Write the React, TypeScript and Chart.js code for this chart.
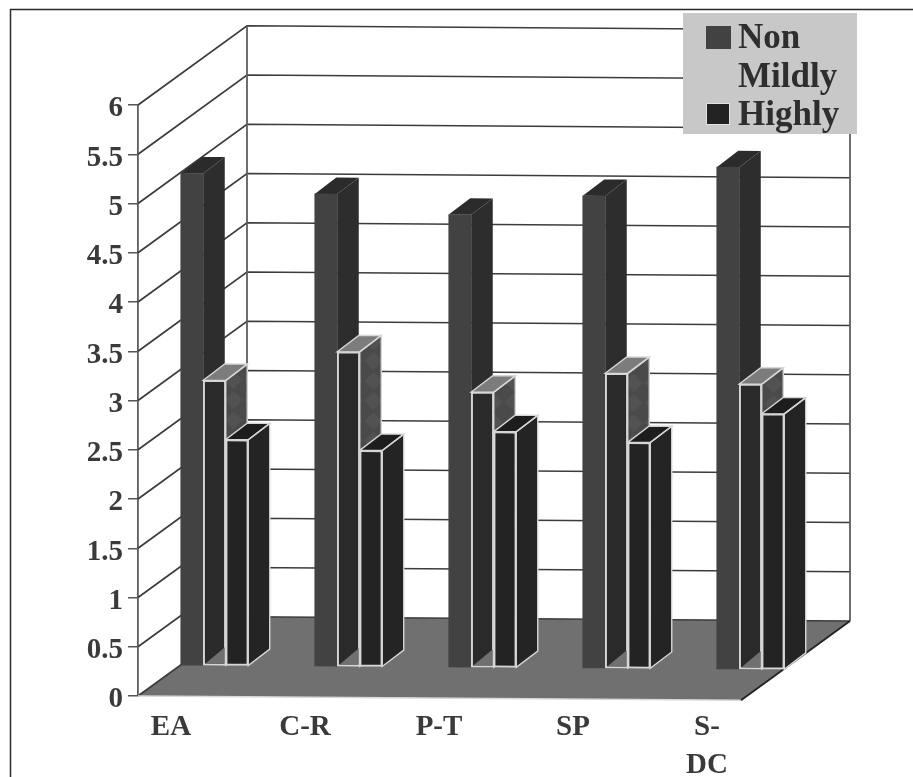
import React, { useEffect, useRef } from "react";
import { Chart, registerables } from "chart.js";

Chart.register(...registerables);

// Rating scores per task, one list per impairment group.
const categories: (string | string[])[] = ["EA", "C-R", "P-T", "SP", ["S-", "DC"]];
const nonScores = [5.0, 4.8, 4.6, 4.8, 5.1];
const mildlyScores = [2.9, 3.2, 2.8, 3.0, 2.9];
const highlyScores = [2.3, 2.2, 2.4, 2.3, 2.6];
const yTicks = [0, 0.5, 1, 1.5, 2, 2.5, 3, 3.5, 4, 4.5, 5, 5.5, 6];

const WIDTH = 913;
const HEIGHT = 777;
const FONT = '"Liberation Serif", serif';

// Oblique projection used for the fake 3D box.
const BOX_DEPTH = { x: 109, y: -80 };
const BAR_SHIFT = { x: 43.5, y: -30.5 };
const BAR_DEPTH = { x: 21.5, y: -16.5 };
const FLOOR_TILT = 0.007;
const BAR_WIDTH = 22.5;
const CATEGORY_STEP = 134;

type Look = { top: string; side: string; edge: string | null };
const looks: Look[] = [
  { top: "#2b2b2b", side: "#2d2d2d", edge: null },
  { top: "#7c7c7c", side: "#4a4a4a", edge: "#d6d6d6" },
  { top: "#1d1d1d", side: "#242424", edge: "#d6d6d6" },
];

function poly(ctx: CanvasRenderingContext2D, pts: number[][]) {
  ctx.beginPath();
  pts.forEach(([x, y], i) => (i ? ctx.lineTo(x, y) : ctx.moveTo(x, y)));
  ctx.closePath();
}

function line(ctx: CanvasRenderingContext2D, pts: number[][], color: string, width: number) {
  ctx.beginPath();
  pts.forEach(([x, y], i) => (i ? ctx.lineTo(x, y) : ctx.moveTo(x, y)));
  ctx.strokeStyle = color;
  ctx.lineWidth = width;
  ctx.stroke();
}

function diamondPattern(ctx: CanvasRenderingContext2D, base: string) {
  const c = document.createElement("canvas");
  c.width = 20;
  c.height = 20;
  const p = c.getContext("2d")!;
  p.fillStyle = base;
  p.fillRect(0, 0, 20, 20);
  p.fillStyle = "#525252";
  p.beginPath();
  p.moveTo(10, 1);
  p.lineTo(19, 10);
  p.lineTo(10, 19);
  p.lineTo(1, 10);
  p.closePath();
  p.fill();
  return ctx.createPattern(c, "repeat");
}

const box3d = {
  id: "box3d",
  beforeDraw(chart: Chart) {
    const ctx = chart.ctx;
    ctx.save();
    ctx.fillStyle = "#ffffff";
    ctx.fillRect(0, 0, WIDTH, HEIGHT);
    line(ctx, [[10.5, HEIGHT], [10.5, 9.5], [WIDTH, 9.5]], "#2a2a2a", 1.5);
    ctx.restore();
  },
  beforeDatasetsDraw(chart: Chart) {
    const { ctx, chartArea } = chart;
    const y = chart.scales.y;
    const { left, right } = chartArea;
    const d = BOX_DEPTH;
    const y0 = y.getPixelForValue(0);

    ctx.save();
    ctx.transform(1, FLOOR_TILT, 0, 1, 0, -FLOOR_TILT * left);

    // Floor
    poly(ctx, [[left, y0], [right, y0], [right + d.x, y0 + d.y], [left + d.x, y0 + d.y]]);
    ctx.fillStyle = "#707070";
    ctx.fill();

    // Side and back walls with their gridlines
    yTicks.forEach((v) => {
      const py = y.getPixelForValue(v);
      line(ctx, [[left, py], [left + d.x, py + d.y], [right + d.x, py + d.y]], "#3c3c3c", 1.7);
    });
    const top = y.getPixelForValue(6);
    line(ctx, [[left + d.x, top + d.y], [left + d.x, y0 + d.y]], "#5e5e5e", 1.8);
    line(ctx, [[right + d.x, top + d.y], [right + d.x, y0 + d.y]], "#5e5e5e", 1.8);

    line(ctx, [[left, y0], [right, y0]], "#d8d8d8", 1.5);
    line(ctx, [[right, y0], [right + d.x, y0 + d.y]], "#222222", 1.8);

    // Bars stand a little behind the front plane
    ctx.translate(BAR_SHIFT.x, BAR_SHIFT.y);
  },
  beforeDatasetDraw(chart: Chart, args: any) {
    const ctx = chart.ctx;
    const look = looks[args.index];
    const sidePaint = args.index === 1 ? diamondPattern(ctx, look.side) : look.side;
    args.meta.data.forEach((bar: any) => {
      const { x, y, base, width } = bar.getProps(["x", "y", "base", "width"], true);
      const r = x + width / 2;
      const l = x - width / 2;
      const dx = BAR_DEPTH.x;
      const dy = BAR_DEPTH.y;
      const side = [[r, y], [r + dx, y + dy], [r + dx, base + dy], [r, base]];
      const lid = [[l, y], [l + dx, y + dy], [r + dx, y + dy], [r, y]];
      poly(ctx, side);
      ctx.fillStyle = sidePaint as any;
      ctx.fill();
      poly(ctx, lid);
      ctx.fillStyle = look.top;
      ctx.fill();
      if (look.edge) {
        poly(ctx, side);
        ctx.strokeStyle = look.edge;
        ctx.lineWidth = 1.4;
        ctx.stroke();
        poly(ctx, lid);
        ctx.stroke();
      }
    });
  },
  afterDatasetDraw(chart: Chart, args: any) {
    // The middle bars show a wedge of floor at the foot of their front face.
    if (args.index !== 1) return;
    const ctx = chart.ctx;
    args.meta.data.forEach((bar: any) => {
      const { x, base, width } = bar.getProps(["x", "base", "width"], true);
      const l = x - width / 2 + 2;
      const r = x + width / 2 - 1;
      poly(ctx, [[l, base - 1.5], [r, base - 1.5], [r, base - 1.5 + BAR_DEPTH.y]]);
      ctx.fillStyle = "#707070";
      ctx.fill();
    });
  },
  afterDatasetsDraw(chart: Chart) {
    chart.ctx.restore();
  },
  afterDraw(chart: Chart) {
    const ctx = chart.ctx;
    const sets = chart.data.datasets;
    ctx.save();
    ctx.fillStyle = "#c8c8c8";
    ctx.fillRect(683, 13, 174, 121);
    ctx.font = `bold 35px ${FONT}`;
    ctx.textAlign = "left";
    ctx.textBaseline = "alphabetic";
    ctx.fillStyle = "#2e2e2e";
    ctx.fillText(String(sets[0].label), 738, 48);
    ctx.fillText(String(sets[1].label), 738, 87);
    ctx.fillText(String(sets[2].label), 738, 125);
    ctx.fillStyle = sets[0].backgroundColor as string;
    ctx.fillRect(706, 26, 25, 23);
    ctx.fillStyle = sets[2].backgroundColor as string;
    ctx.fillRect(707, 104, 22, 20);
    ctx.strokeStyle = "#e2e2e2";
    ctx.lineWidth = 1;
    ctx.strokeRect(706.5, 103.5, 23, 21);
    ctx.restore();
  },
};

export default function App() {
  const ref = useRef<HTMLCanvasElement>(null);

  useEffect(() => {
    // Each series sits one bar width further along inside its group.
    const points = (vals: number[], slot: number) =>
      vals.map((v, i) => ({ x: i + (slot * BAR_WIDTH) / CATEGORY_STEP, y: v }));
    const common = { barThickness: BAR_WIDTH, grouped: false, clip: false as const, borderSkipped: false as const };
    const chart = new Chart(ref.current!, {
      type: "bar",
      data: {
        datasets: [
          { ...common, label: "Non", data: points(nonScores, -1), backgroundColor: "#424242", order: 3, borderWidth: 0 },
          { ...common, label: "Mildly", data: points(mildlyScores, 0), backgroundColor: "#2a2a2a", order: 2, borderWidth: 2, borderColor: "#d6d6d6" },
          { ...common, label: "Highly", data: points(highlyScores, 1), backgroundColor: "#232323", order: 1, borderWidth: 2, borderColor: "#d6d6d6" },
        ],
      },
      options: {
        responsive: false,
        animation: false,
        layout: { padding: { top: 105, right: 172, left: 0, bottom: 0 } },
        plugins: { legend: { display: false }, tooltip: { enabled: false } },
        scales: {
          x: {
            type: "linear",
            offset: false,
            min: -0.2463,
            max: 4.2537,
            afterFit: (s: any) => { s.height = 81; },
            afterBuildTicks: (s: any) => { s.ticks = categories.map((_, i) => ({ value: i })); },
            grid: { display: false },
            border: { display: false },
            ticks: {
              autoSkip: false,
              maxRotation: 0,
              padding: 5,
              color: "#3a3a3a",
              font: { family: FONT, weight: "bold", size: 29, lineHeight: 1.3 },
              callback: (v: any) => categories[v as number],
            },
          },
          y: {
            type: "linear",
            min: 0,
            max: 6,
            afterFit: (s: any) => { s.width = 138; },
            afterBuildTicks: (s: any) => { s.ticks = yTicks.map((value) => ({ value })); },
            grid: { drawOnChartArea: false, drawTicks: true, tickLength: 10, color: "#555555", lineWidth: 1.5 },
            border: { display: true, color: "#5e5e5e", width: 1.8 },
            ticks: {
              autoSkip: false,
              padding: 5,
              labelOffset: 4,
              color: "#3a3a3a",
              font: { family: FONT, weight: "bold", size: 29 },
              callback: (v: any) => String(v),
            },
          },
        },
      },
      plugins: [box3d],
    } as any);
    return () => chart.destroy();
  }, []);

  return (
    <div style={{ position: "absolute", left: 0, top: 0, width: WIDTH, height: HEIGHT, overflow: "hidden" }}>
      <canvas ref={ref} width={WIDTH} height={HEIGHT} style={{ display: "block" }} />
    </div>
  );
}
